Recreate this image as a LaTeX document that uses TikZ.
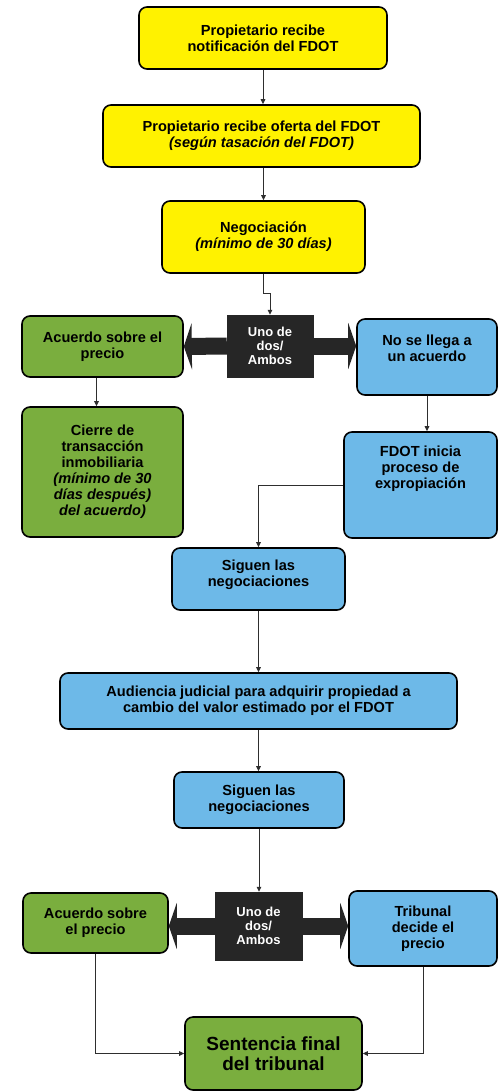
\documentclass[tikz,border=0pt]{standalone}
\usepackage{fontspec}
\setmainfont{Liberation Sans}
\usetikzlibrary{arrows.meta,calc}
\definecolor{yfill}{HTML}{FFF200}
\definecolor{gfill}{HTML}{7AAE3E}
\definecolor{bfill}{HTML}{6DB9E8}
\definecolor{kfill}{HTML}{262626}
\definecolor{lnc}{HTML}{2E2E2E}
\begin{document}
\begin{tikzpicture}[x=1pt,y=-1pt,
  boxbase/.style={draw=black, line width=1.6pt, rounded corners=8pt, align=center,
     inner sep=2pt, font=\bfseries\fontsize{14.6}{16}\selectfont},
  ybox/.style={boxbase, fill=yfill},
  gbox/.style={boxbase, fill=gfill},
  bbox/.style={boxbase, fill=bfill},
  kbox/.style={draw=kfill, fill=kfill, text=white, align=center, inner sep=2pt,
     font=\bfseries\fontsize{13}{14}\selectfont},
  txt/.style={align=center, inner sep=0pt, font=\bfseries\fontsize{14.6}{16}\selectfont},
  conn/.style={draw=lnc, line width=1pt, -{Triangle[length=5pt,width=4.5pt]}},
  fat/.style={draw=kfill, line width=17pt, -{Triangle[length=8pt,width=46pt]}}
]
\useasboundingbox[fill=white] (0,0) rectangle (498,1092);

\node[ybox, minimum width=248pt, minimum height=62pt] (n1) at (263,38)
  {Propietario recibe\\notificación del FDOT};
\node[ybox, minimum width=317pt, minimum height=62pt] (n2) at (261.5,136)
  {Propietario recibe oferta del FDOT\\\textit{(según tasación del FDOT)}};
\node[ybox, minimum width=203pt, minimum height=72pt] (n3) at (263.5,237)
  {Negociación\\\textit{(mínimo de 30 días)}};
\node[kbox, minimum width=86pt, minimum height=62pt] (n4) at (270,346)
  {Uno de\\dos/\\Ambos};
\node[gbox, minimum width=161pt, minimum height=61pt] (n5) at (102.5,346.5)
  {Acuerdo sobre el\\precio};
\node[bbox, minimum width=140pt, minimum height=76pt] (n6) at (427,357) {};
\node[txt] (n6t) at (427,348) {No se llega a\\un acuerdo};
\node[gbox, minimum width=161pt, minimum height=130pt] (n5b) at (102.5,472)
  {Cierre de\\transacción\\inmobiliaria\\\textit{(mínimo de 30}\\\textit{días después)}\\\textit{del acuerdo)}};
\node[bbox, minimum width=153pt, minimum height=106pt] (n7) at (420.5,485) {};
\node[txt] (n7t) at (420.5,469) {FDOT inicia\\proceso de\\expropiación};
\node[bbox, minimum width=173pt, minimum height=62pt] (n8) at (258.5,579) {};
\node[txt] (n8t) at (258.5,575) {Siguen las\\negociaciones};
\node[bbox, minimum width=397pt, minimum height=56pt] (n9) at (258.5,701)
  {Audiencia judicial para adquirir propiedad a\\cambio del valor estimado por el FDOT};
\node[bbox, minimum width=170pt, minimum height=56pt] (n10) at (259,800)
  {Siguen las\\negociaciones};
\node[kbox, minimum width=87pt, minimum height=68pt] (n11) at (258.5,926)
  {Uno de\\dos/\\Ambos};
\node[gbox, minimum width=145pt, minimum height=60pt] (n12) at (95.5,923)
  {Acuerdo sobre\\el precio};
\node[bbox, minimum width=148pt, minimum height=75pt] (n13) at (423,928.5)
  {Tribunal\\decide el\\precio};
\node[gbox, minimum width=177pt, minimum height=73pt, font=\bfseries\fontsize{19}{19.5}\selectfont] (n14) at (273.5,1053.5)
  {Sentencia final\\del tribunal};

% connectors
\draw[conn] (n1.south) -- (n1.south |- n2.north);
\draw[conn] (n2.south -| n3.north) -- (n3.north);
\draw[conn] (n3.south) -- ++(0,20) -| (n4.north);
\draw[fat] (n4.west) -- (n5.east);
\draw[fat] (n4.east) -- (n6.west |- n4.east);
\coordinate (c5) at ($(n5.south)+(-6,0)$);
\draw[conn] (c5) -- (c5 |- n5b.north);
\draw[conn] (n6.south) -- (n6.south |- n7.north);
\draw[conn] (n7.west) -| (n8.north);
\draw[conn] (n8.south) -- (n8.south |- n9.north);
\draw[conn] (n9.south) -- (n9.south |- n10.north);
\draw[conn] (n10.south) -- (n10.south |- n11.north);
\draw[fat] (n11.west) -- (n12.east |- n11.west);
\draw[fat] (n11.east) -- (n13.west |- n11.east);
\draw[conn] (n12.south) |- (n14.west);
\draw[conn] (n13.south) |- (n14.east);
\end{tikzpicture}
\end{document}
